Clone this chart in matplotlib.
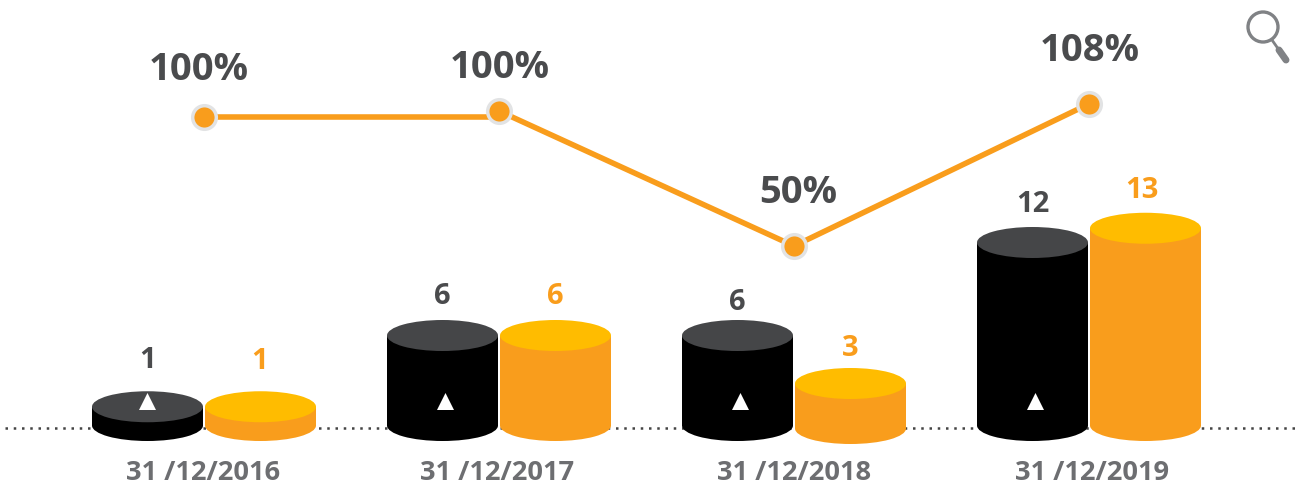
import matplotlib
matplotlib.use('Agg')
import matplotlib.pyplot as plt
from matplotlib.patches import Ellipse, Circle

###### data
dates = ['31 /12/2016', '31 /12/2017', '31 /12/2018', '31 /12/2019']
black_values = [1.25, 6, 6, 12.2]
orange_values = [1.25, 6, 3, 13.15]
black_labels = ['1', '6', '6', '12']
orange_labels = ['1', '6', '3', '13']
rate_labels = ['100%', '100%', '50%', '108%']
rate_values = [102.6, 105.1, 50, 108]  # plotted height, not the printed label

# styles
BLACK_TOP = '#454648'
ORANGE = '#F99D1C'
ORANGE_TOP = '#FFBC00'
DARK_TEXT = '#4A4B4D'
GREY_TEXT = '#6D6E71'
PX_X = 295.0  # pixels per category
PX_Y = 15.0   # pixels per bar unit
BAR_W = 111 / PX_X
OFFSET = 56.5 / PX_X
CAP_H = 31 / PX_Y

# small hand placed nudges, px
black_gap = [32, 24, 18, 23]
orange_gap = [31, 24, 21, 23]
orange_label_dx = [-1, 0, 0, -4]
triangle_dx = [-1, 2, 2, 2]
date_dx = [-1, -2, 0, 3]
rate_dx = [-5, 1, 4, 1]
rate_dy = [48, 44, 54, 54]
orange_shift = [0, 0, -3 / PX_Y, 0]  # the 2018 orange bar sits a bit lower

fig = plt.figure(figsize=(13, 4.85), dpi=100)
ax = fig.add_axes([0, 0, 1, 1])
ax.set_xlim(-204 / PX_X, 1096 / PX_X)
ax.set_ylim(-58.5 / PX_Y, 426.5 / PX_Y)
ax.axis('off')

# dotted baseline
ax.plot([-199 / PX_X, 1091 / PX_X], [-2.5 / PX_Y] * 2, color='#444444', lw=1.8,
        linestyle=(0, (1, 2.3)), zorder=1)


def cylinder(x, value, base, body, top):
    ax.bar(x, value, BAR_W, bottom=base, color=body, zorder=2)
    ax.add_patch(Ellipse((x, base), BAR_W, CAP_H, color=body, lw=0, zorder=2))
    ax.add_patch(Ellipse((x, base + value), BAR_W, CAP_H, color=top, lw=0, zorder=3))


for i in range(len(dates)):
    xb = i - OFFSET
    xo = i + OFFSET
    cylinder(xb, black_values[i], 0, 'black', BLACK_TOP)
    cylinder(xo, orange_values[i], orange_shift[i], ORANGE, ORANGE_TOP)
    ax.scatter(xb + triangle_dx[i] / PX_X, 1.65, marker='^', s=150, color='white',
               linewidths=0, zorder=4)
    ax.annotate(black_labels[i], (xb, black_values[i] + CAP_H / 2),
                xytext=(0, black_gap[i] * 0.72), textcoords='offset points',
                ha='center', va='center', fontsize=21, fontweight='bold',
                family='Open Sans', color=DARK_TEXT)
    ax.annotate(orange_labels[i], (xo, orange_values[i] + orange_shift[i] + CAP_H / 2),
                xytext=(orange_label_dx[i] * 0.72, orange_gap[i] * 0.72),
                textcoords='offset points', ha='center', va='center', fontsize=21,
                fontweight='bold', family='Open Sans', color=ORANGE)
    ax.text(i + date_dx[i] / PX_X, -46.5 / PX_Y, dates[i], ha='center', va='center',
            fontsize=19.6, fontweight='bold', family='Open Sans', color=GREY_TEXT)

# rate line on its own scale
ax2 = fig.add_axes([0, 0, 1, 1])
ax2.set_xlim(ax.get_xlim())
ax2.set_ylim(50 - 238 / 2.45, 50 + 247 / 2.45)
ax2.axis('off')
xs = list(range(len(dates)))
# first stretch runs flat from the first point, the rest joins up normally
ax2.plot(xs[:2], [rate_values[0], rate_values[0]], color=ORANGE, lw=4, zorder=5)
ax2.plot(xs[1:], rate_values[1:], color=ORANGE, lw=4, zorder=5)
ax2.plot(xs, rate_values, linestyle='none', marker='o', ms=17, mfc=ORANGE,
         mec='#E2E3E4', mew=2.5, zorder=6)
for i in xs:
    ax2.annotate(rate_labels[i], (i, rate_values[i]),
                 xytext=(rate_dx[i] * 0.72, rate_dy[i] * 0.72),
                 textcoords='offset points', ha='center', va='center', fontsize=27.5,
                 fontweight='bold', family='Open Sans', color=DARK_TEXT)

# magnifier icon in the corner
ax3 = fig.add_axes([0, 0, 1, 1])
ax3.set_xlim(0, 1300)
ax3.set_ylim(485, 0)
ax3.axis('off')
ax3.add_patch(Circle((1263, 28), 15, fill=False, ec='#808285', lw=2.4))
ax3.plot([1272, 1279], [41, 51], color='#808285', lw=2, solid_capstyle='round')
ax3.plot([1279, 1286], [51, 61], color='#808285', lw=5, solid_capstyle='round')

fig.savefig('out.png', dpi=100)
